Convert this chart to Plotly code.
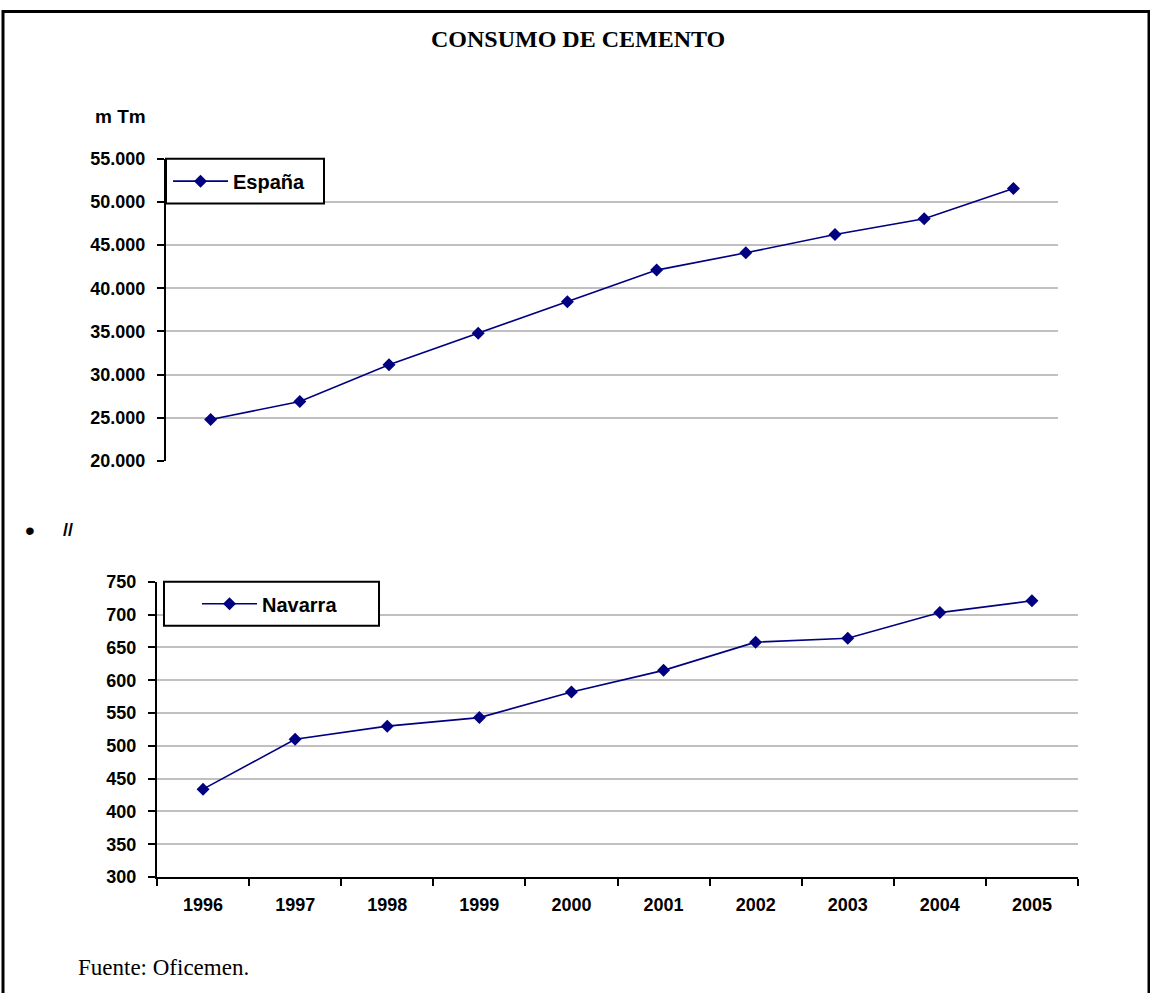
import plotly.graph_objects as go

# ---- data ----
years = ["1996", "1997", "1998", "1999", "2000", "2001", "2002", "2003", "2004", "2005"]
espana = [24800, 26900, 31150, 34780, 38450, 42100, 44100, 46220, 48050, 51550]
navarra = [434, 510, 530, 543, 582, 615, 658, 664, 703, 721]
esp_ticks = [20000, 25000, 30000, 35000, 40000, 45000, 50000, 55000]
esp_ticktext = ["20.000", "25.000", "30.000", "35.000", "40.000", "45.000", "50.000", "55.000"]
nav_ticks = [300, 350, 400, 450, 500, 550, 600, 650, 700, 750]

W, H = 1150, 993
# the photographed page shows a small top offset and slight vertical squeeze;
# compensate so positions land where the reference has them
Y_OFF, Y_SCALE = 8.0, 0.982


def px(x):
    return x / W


def py(y):
    return 1 - ((y - Y_OFF) / Y_SCALE) / H


NAVY = "#000080"
GRID = "#c0c0c0"
SANS = "Liberation Sans, Arial, sans-serif"
SERIF = "Liberation Serif, Times New Roman, serif"
tickfont = dict(family=SANS, size=18, color="black", weight="bold")
legfont = dict(family=SANS, size=20, color="black", weight="bold")

fig = go.Figure()
fig.add_trace(go.Scatter(
    x=years, y=espana, name="España", mode="lines+markers",
    line=dict(color=NAVY, width=1.6),
    marker=dict(symbol="diamond", size=10, color=NAVY),
    xaxis="x", yaxis="y", legend="legend"))
fig.add_trace(go.Scatter(
    x=years, y=navarra, name="Navarra", mode="lines+markers",
    line=dict(color=NAVY, width=1.6),
    marker=dict(symbol="diamond", size=10, color=NAVY),
    xaxis="x2", yaxis="y2", legend="legend2"))

yax_common = dict(
    showgrid=True, gridcolor=GRID, gridwidth=1.5, zeroline=False,
    showline=True, linecolor="black", linewidth=2,
    ticks="outside", ticklen=7, tickwidth=2, tickcolor="black",
    tickfont=tickfont, ticklabelstandoff=8, fixedrange=True)

fig.update_layout(
    width=W, height=H,
    margin=dict(l=0, r=0, t=0, b=0),
    paper_bgcolor="white", plot_bgcolor="white",
    showlegend=True,
    xaxis=dict(domain=[px(166), px(1058)], anchor="y", type="category",
               range=[-0.5, 9.5], showgrid=False, showline=False,
               showticklabels=False, ticks="", zeroline=False, fixedrange=True),
    yaxis=dict(domain=[py(460), py(157)], anchor="x", range=[20000, 55000],
               tickmode="array", tickvals=esp_ticks, ticktext=esp_ticktext,
               **yax_common),
    xaxis2=dict(domain=[px(157), px(1078)], anchor="y2", type="category",
                range=[-0.5, 9.5], showgrid=False, showline=True,
                linecolor="black", linewidth=2, ticks="outside",
                tickson="boundaries", ticklen=7, tickwidth=2, tickcolor="black",
                tickfont=tickfont, ticklabelstandoff=10, zeroline=False,
                fixedrange=True),
    yaxis2=dict(domain=[py(877), py(581)], anchor="x2", range=[300, 750],
                tickmode="array", tickvals=nav_ticks, **yax_common),
    legend=dict(x=px(168), y=py(179.5), xanchor="left", yanchor="middle",
                bgcolor="rgba(0,0,0,0)", borderwidth=0, font=legfont,
                itemwidth=55),
    legend2=dict(x=px(197), y=py(603), xanchor="left", yanchor="middle",
                 bgcolor="rgba(0,0,0,0)", borderwidth=0, font=legfont,
                 itemwidth=55),
)

shapes = [
    # outer frame
    dict(type="rect", xref="paper", yref="paper", x0=px(3), x1=px(1149),
         y0=-0.05, y1=1 - 1.5 / H, line=dict(color="black", width=3),
         fillcolor="rgba(0,0,0,0)", layer="above"),
    # legend boxes
    dict(type="rect", xref="paper", yref="paper", x0=px(166), x1=px(324),
         y0=py(202), y1=py(157), line=dict(color="black", width=2),
         fillcolor="white", layer="above"),
    dict(type="rect", xref="paper", yref="paper", x0=px(164), x1=px(379),
         y0=py(625), y1=py(581), line=dict(color="black", width=2),
         fillcolor="white", layer="above"),
]
fig.update_layout(shapes=shapes)

annotations = [
    dict(text="CONSUMO DE CEMENTO", x=px(578), y=py(37), xref="paper", yref="paper",
         xanchor="center", yanchor="middle", showarrow=False,
         font=dict(family=SERIF, size=24, color="black", weight="bold")),
    dict(text="m Tm", x=px(120), y=py(115), xref="paper", yref="paper",
         xanchor="center", yanchor="middle", showarrow=False,
         font=dict(family=SANS, size=19, color="black", weight="bold")),
    dict(text="•", x=px(30), y=py(530), xref="paper", yref="paper",
         xanchor="center", yanchor="middle", showarrow=False,
         font=dict(family=SANS, size=28, color="black")),
    dict(text="//", x=px(68), y=py(529), xref="paper", yref="paper",
         xanchor="center", yanchor="middle", showarrow=False,
         font=dict(family=SANS, size=18, color="black", weight="bold")),
    dict(text="Fuente: Oficemen.", x=px(76), y=py(968), xref="paper", yref="paper",
         xanchor="left", yanchor="middle", showarrow=False,
         font=dict(family=SERIF, size=23, color="black")),
]
fig.update_layout(annotations=annotations)

post = (
    "document.documentElement.style.margin='0';"
    "document.documentElement.style.padding='0';"
    "document.documentElement.style.overflow='hidden';"
    "document.body.style.margin='0';"
    "document.body.style.padding='0';"
    "document.body.style.overflow='hidden';"
    "var d=document.querySelector('.plotly-graph-div');"
    "if(d){d.style.position='absolute';d.style.left='0px';d.style.top='0px';}"
    "window.scrollTo(0,0);"
)

fig.write_html("out.html", config={"displayModeBar": False}, post_script=post)
